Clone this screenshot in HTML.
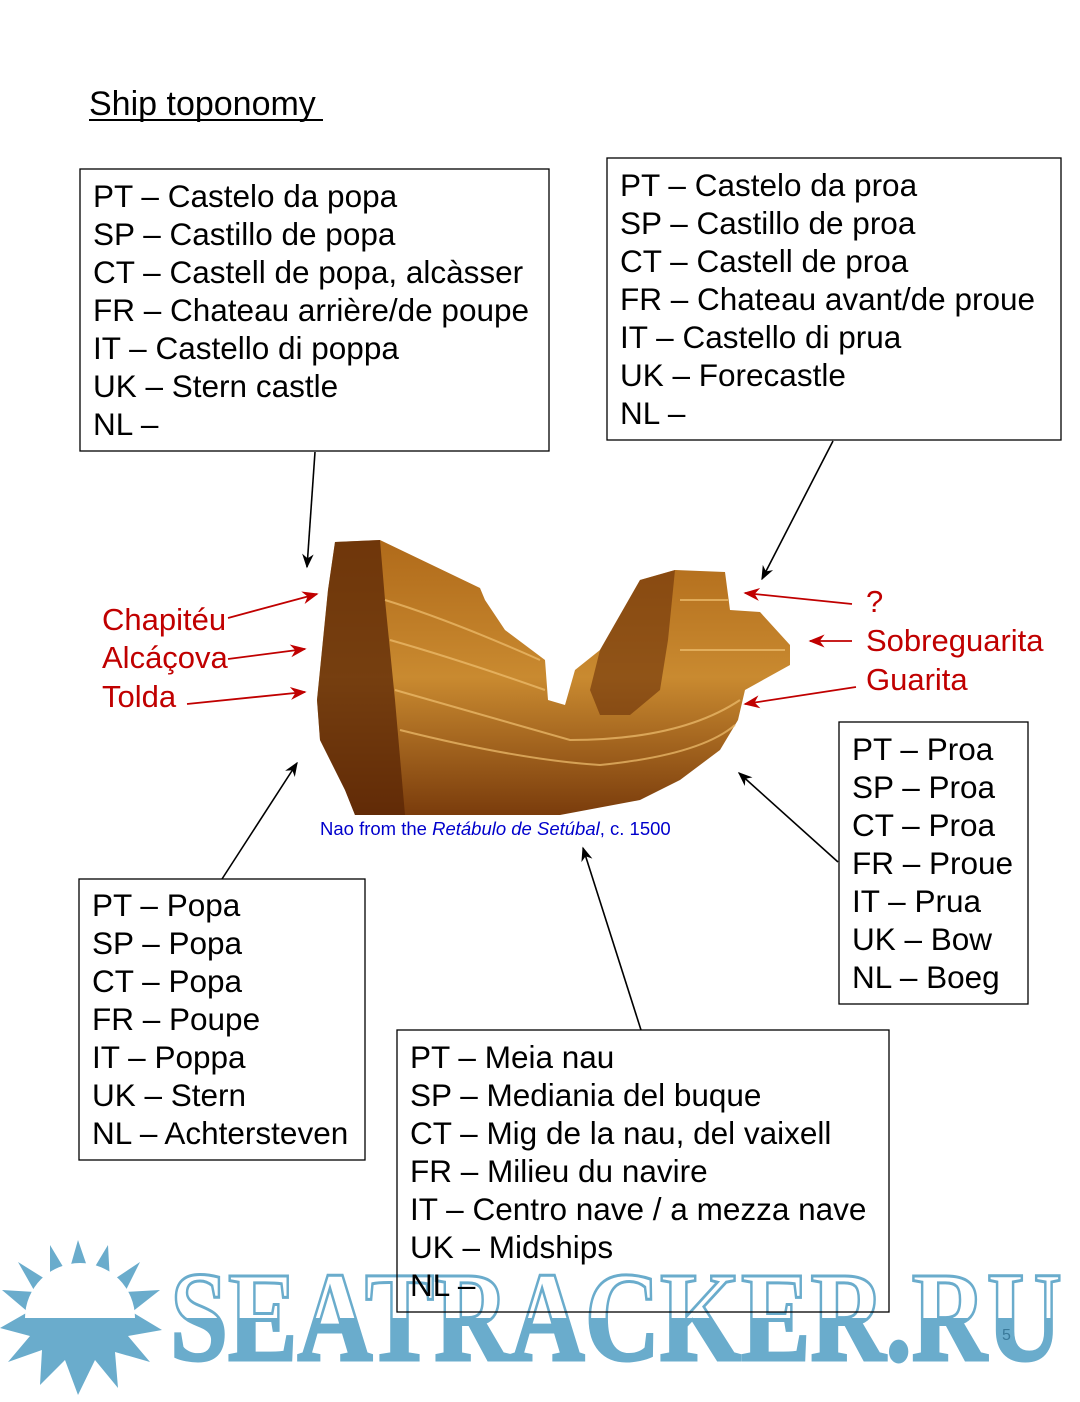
<!DOCTYPE html>
<html><head><meta charset="utf-8"><style>
body{margin:0;background:#fff;}
svg text{font-family:"Liberation Sans",sans-serif;}
</style></head><body>
<svg width="1080" height="1397" viewBox="0 0 1080 1397" xmlns="http://www.w3.org/2000/svg">
<defs>
<marker id="ab" viewBox="0 0 10 10" refX="9" refY="5" markerWidth="9" markerHeight="9" orient="auto"><path d="M0,1 L10,5 L0,9 L3,5Z" fill="#000"/></marker>
<marker id="ar" viewBox="0 0 10 10" refX="9" refY="5" markerWidth="9" markerHeight="9" orient="auto"><path d="M0,1 L10,5 L0,9 L3,5Z" fill="#c00000"/></marker>
<linearGradient id="sh" x1="0" y1="0" x2="0" y2="1"><stop offset="0" stop-color="#b06a1a"/><stop offset="0.5" stop-color="#c98a30"/><stop offset="1" stop-color="#7a3c0c"/></linearGradient>
<clipPath id="top"><rect x="0" y="0" width="1080" height="1318"/></clipPath>
<clipPath id="bot"><rect x="0" y="1318" width="1080" height="100"/></clipPath>
</defs>

<!-- watermark -->
<g fill="#6aaccc">
<polygon points="78,1240 90,1275 108,1245 110,1282 140,1262 125,1292 160,1290 132,1312 162,1330 128,1336 150,1362 115,1352 118,1388 95,1360 78,1395 65,1360 40,1385 42,1350 8,1362 30,1336 0,1328 28,1312 2,1290 35,1292 18,1262 50,1282 50,1245 68,1275"/>
<path d="M25,1318 A55,55 0 0 1 135,1318 Z" fill="#fff"/>
</g>
<g font-weight="bold" font-size="128">
<text x="170" y="1360" textLength="892" lengthAdjust="spacingAndGlyphs" fill="#fff" stroke="#6aaccc" stroke-width="3" clip-path="url(#top)" style="font-family:'Liberation Serif',serif">SEATRACKER.RU</text>
<text x="170" y="1360" textLength="892" lengthAdjust="spacingAndGlyphs" fill="#6aaccc" stroke="#6aaccc" stroke-width="3" clip-path="url(#bot)" style="font-family:'Liberation Serif',serif">SEATRACKER.RU</text>
</g>
<text x="1002" y="1340" font-size="16" fill="#3a7a9a">5</text>

<text x="89" y="115" font-size="34" fill="#000">Ship toponomy</text>
<line x1="89" y1="120" x2="323" y2="120" stroke="#000" stroke-width="2"/>

<!-- ship -->
<polygon fill="url(#sh)" points="335,542 380,540 480,588 485,600 505,630 545,660 548,700 565,705 575,670 600,650 640,580 675,570 725,572 730,610 760,612 790,645 790,665 745,690 738,720 720,750 680,780 640,800 560,815 355,815 345,790 320,740 317,700 322,650 328,590"/>
<polygon fill="#5a2606" opacity="0.75" points="335,542 380,540 385,600 395,700 405,815 355,815 345,790 320,740 317,700 322,650 328,590"/>
<polygon fill="#6a3008" opacity="0.6" points="640,580 675,570 668,640 660,690 630,715 600,715 590,690 600,650"/>
<g stroke="#f0c070" stroke-width="2" opacity="0.7" fill="none">
<path d="M385,600 Q450,620 540,660"/><path d="M390,640 Q460,660 545,690"/><path d="M395,690 Q500,720 570,740 Q680,740 740,700"/><path d="M400,730 Q520,760 600,765 Q700,755 735,725"/><path d="M680,600 L728,600"/><path d="M680,650 L785,650"/>
</g>
<text x="320" y="835" font-size="18.5" fill="#0000cc">Nao from the <tspan font-style="italic">Retábulo de Setúbal</tspan>, c. 1500</text>

<!-- boxes -->
<g fill="none" stroke="#000" stroke-width="1.3">
<rect x="80" y="169" width="469" height="282"/>
<rect x="607" y="158" width="454" height="282"/>
<rect x="839" y="722" width="189" height="282"/>
<rect x="79" y="879" width="286" height="281"/>
<rect x="397" y="1030" width="492" height="282"/>
</g>
<g font-size="31.5" fill="#000">
<text x="93" y="207">PT – Castelo da popa</text>
<text x="93" y="245">SP – Castillo de popa</text>
<text x="93" y="283">CT – Castell de popa, alcàsser</text>
<text x="93" y="321">FR – Chateau arrière/de poupe</text>
<text x="93" y="359">IT – Castello di poppa</text>
<text x="93" y="397">UK – Stern castle</text>
<text x="93" y="435">NL –</text>

<text x="620" y="196">PT – Castelo da proa</text>
<text x="620" y="234">SP – Castillo de proa</text>
<text x="620" y="272">CT – Castell de proa</text>
<text x="620" y="310">FR – Chateau avant/de proue</text>
<text x="620" y="348">IT – Castello di prua</text>
<text x="620" y="386">UK – Forecastle</text>
<text x="620" y="424">NL –</text>

<text x="852" y="760">PT – Proa</text>
<text x="852" y="798">SP – Proa</text>
<text x="852" y="836">CT – Proa</text>
<text x="852" y="874">FR – Proue</text>
<text x="852" y="912">IT – Prua</text>
<text x="852" y="950">UK – Bow</text>
<text x="852" y="988">NL – Boeg</text>

<text x="92" y="916">PT – Popa</text>
<text x="92" y="954">SP – Popa</text>
<text x="92" y="992">CT – Popa</text>
<text x="92" y="1030">FR – Poupe</text>
<text x="92" y="1068">IT – Poppa</text>
<text x="92" y="1106">UK – Stern</text>
<text x="92" y="1144">NL – Achtersteven</text>

<text x="410" y="1068">PT – Meia nau</text>
<text x="410" y="1106">SP – Mediania del buque</text>
<text x="410" y="1144">CT – Mig de la nau, del vaixell</text>
<text x="410" y="1182">FR – Milieu du navire</text>
<text x="410" y="1220">IT – Centro nave / a mezza nave</text>
<text x="410" y="1258">UK – Midships</text>
<text x="410" y="1296">NL –</text>
</g>

<!-- black arrows -->
<g stroke="#000" stroke-width="1.6" marker-end="url(#ab)">
<line x1="315" y1="452" x2="307" y2="567"/>
<line x1="833" y1="441" x2="762" y2="579"/>
<line x1="222" y1="879" x2="297" y2="763"/>
<line x1="838" y1="862" x2="739" y2="773"/>
<line x1="641" y1="1030" x2="583" y2="848"/>
</g>
<!-- red arrows -->
<g stroke="#c00000" stroke-width="1.8" marker-end="url(#ar)">
<line x1="228" y1="618" x2="317" y2="594"/>
<line x1="228" y1="659" x2="305" y2="649"/>
<line x1="187" y1="704" x2="305" y2="692"/>
<line x1="852" y1="604" x2="745" y2="593"/>
<line x1="852" y1="641" x2="810" y2="641"/>
<line x1="856" y1="687" x2="745" y2="704"/>
</g>
<g font-size="31" fill="#c00000">
<text x="102" y="630">Chapitéu</text>
<text x="102" y="668">Alcáçova</text>
<text x="102" y="707">Tolda</text>
<text x="866" y="612">?</text>
<text x="866" y="651">Sobreguarita</text>
<text x="866" y="690">Guarita</text>
</g>
</svg>
</body></html>
